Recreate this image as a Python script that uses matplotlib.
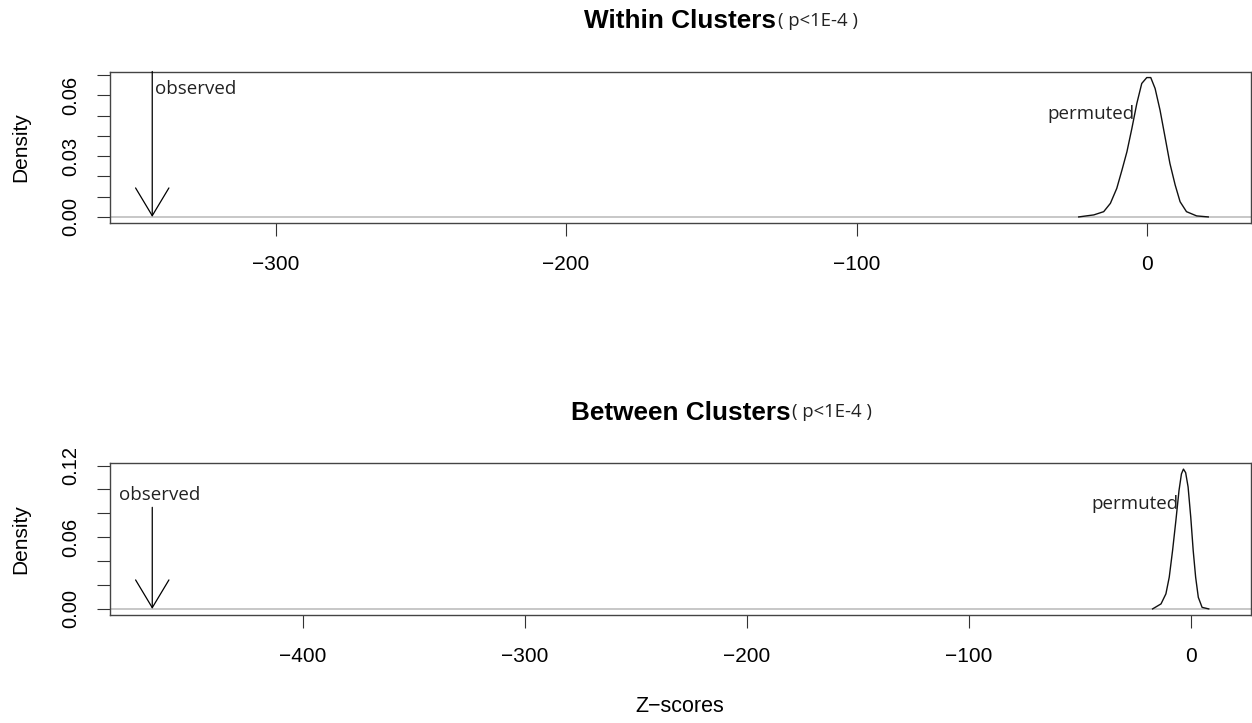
import numpy as np
import matplotlib
matplotlib.use("Agg")
import matplotlib.pyplot as plt
from matplotlib.ticker import MultipleLocator
from matplotlib.transforms import offset_copy

plt.rcParams['font.family'] = ['Liberation Sans', 'DejaVu Sans']

# permuted z-score density
within_z = [-23.5, -18.3, -14.9, -12.6, -10.4, -8.6, -6.9, -5.2, -3.5, -1.8, -0.07, 1.3,
            2.8, 4.5, 6.2, 7.9, 9.7, 11.4, 13.6, 17.1, 21.1]
within_d = [0.0, 0.0010, 0.0026, 0.0067, 0.0141, 0.0232, 0.0322, 0.0437, 0.0560, 0.0659, 0.0688, 0.0688,
            0.0634, 0.0527, 0.0396, 0.0264, 0.0158, 0.0075, 0.0026, 0.0005, 0.0]
between_z = [-17.3, -13.5, -11.3, -9.8, -8.3, -6.8, -5.4, -4.3, -3.4, -2.4, -1.3, -0.1,
             1.0, 2.1, 3.3, 5.0, 8.0]
between_d = [0.0, 0.0042, 0.0126, 0.0265, 0.0488, 0.0740, 0.099, 0.113, 0.117, 0.114, 0.102, 0.0767,
             0.0488, 0.0265, 0.0097, 0.0013, 0.0]

titles = ["Within Clusters", "Between Clusters"]
pvals = ["( p<1E-4 )", "( p<1E-4 )"]
observed = [-342.5, -468.0]
arrow_top = [0.0718, 0.085]
text_obs = [(-341.5, 0.063), (-483.0, 0.095)]
text_perm = [(-4.3, 0.051), (-5.6, 0.088)]
ytick_major = [0.03, 0.06]
ytick_minor = [0.01, 0.02]

fig = plt.figure(figsize=(12.52, 7.23), dpi=100)
W, H = 1252, 723
boxes = [(110, 72, 1250.5, 222.5), (110, 463.5, 1251, 614.5)]

panels = [(within_z, within_d), (between_z, between_d)]
for i, (zs, ds) in enumerate(panels):
    x0, y0, x1, y1 = boxes[i]
    ax = fig.add_axes([x0 / W, 1 - y1 / H, (x1 - x0) / W, (y1 - y0) / H])
    zs = np.array(zs)
    ds = np.array(ds)
    lo, hi = min(observed[i], zs.min()), zs.max()
    ext = 0.04 * (hi - lo)
    top = ds.max()
    ax.axhline(0, color='#bebebe', lw=1.2, zorder=1)
    ax.plot(zs, ds, color='#111111', lw=1.0, zorder=2)

    ax.annotate('', xy=(observed[i], 0), xytext=(observed[i], arrow_top[i]),
                arrowprops=dict(arrowstyle='->, head_length=2.0, head_width=1.2',
                                color='black', lw=0.9, shrinkA=0, shrinkB=0,
                                mutation_scale=10))
    ax.text(text_obs[i][0], text_obs[i][1], 'observed', family='Open Sans',
            fontsize=13.5, color='#222222', ha='left', va='center')
    ax.text(text_perm[i][0], text_perm[i][1], 'permuted', family='Open Sans',
            fontsize=13.5, color='#222222', ha='right', va='center')

    ax.set_xlim(lo - ext, hi + ext)
    ax.xaxis.set_major_locator(MultipleLocator(100))
    ax.yaxis.set_major_locator(MultipleLocator(ytick_major[i]))
    ax.yaxis.set_minor_locator(MultipleLocator(ytick_minor[i]))
    ax.set_ylim(-0.04 * top, top * 1.04)
    ax.tick_params(axis='both', which='both', length=9.5, width=0.8, direction='out',
                   color='#333333')
    ax.tick_params(axis='x', pad=14, labelsize=15)
    ax.tick_params(axis='y', pad=12)
    yt = [v for v in ax.get_yticks() if -1e-9 <= v <= top * 1.04]
    ax.set_yticks(yt)
    ax.set_yticklabels(['%.2f' % v for v in yt], rotation=90, va='center',
                       family=['Liberation Sans Narrow', 'Liberation Sans'], fontsize=14.5)
    ax.set_ylim(-0.04 * top, top * 1.04)
    xt = [v for v in ax.get_xticks() if lo - ext <= v <= hi + ext]
    ax.set_xticks(xt)
    ax.set_xticklabels(['\u2212%d' % -v if v < 0 else '%d' % v for v in xt])
    for s in ax.spines.values():
        s.set_color('#444444')
        s.set_linewidth(1.0)

    fig.text(21 / W, 1 - (y0 + y1) / 2 / H, 'Density', rotation=90,
             ha='center', va='center', fontsize=15)
    t = ax.text(0.5, 1.0, titles[i], ha='center', va='baseline',
                fontsize=18.8, fontweight='bold',
                transform=offset_copy(ax.transAxes, fig=fig, y=31.5, units='points'))
    ax.annotate(pvals[i], xy=(1.0, 0.0), xycoords=t, xytext=(1, 2.5),
                textcoords='offset points', ha='left', va='bottom',
                family='Open Sans', fontsize=13.3, color='#222222')

fig.text(680 / W, 1 - 707 / H, 'Z\u2212scores', ha='center', va='center', fontsize=15.5)
fig.savefig('out.png', dpi=100)
